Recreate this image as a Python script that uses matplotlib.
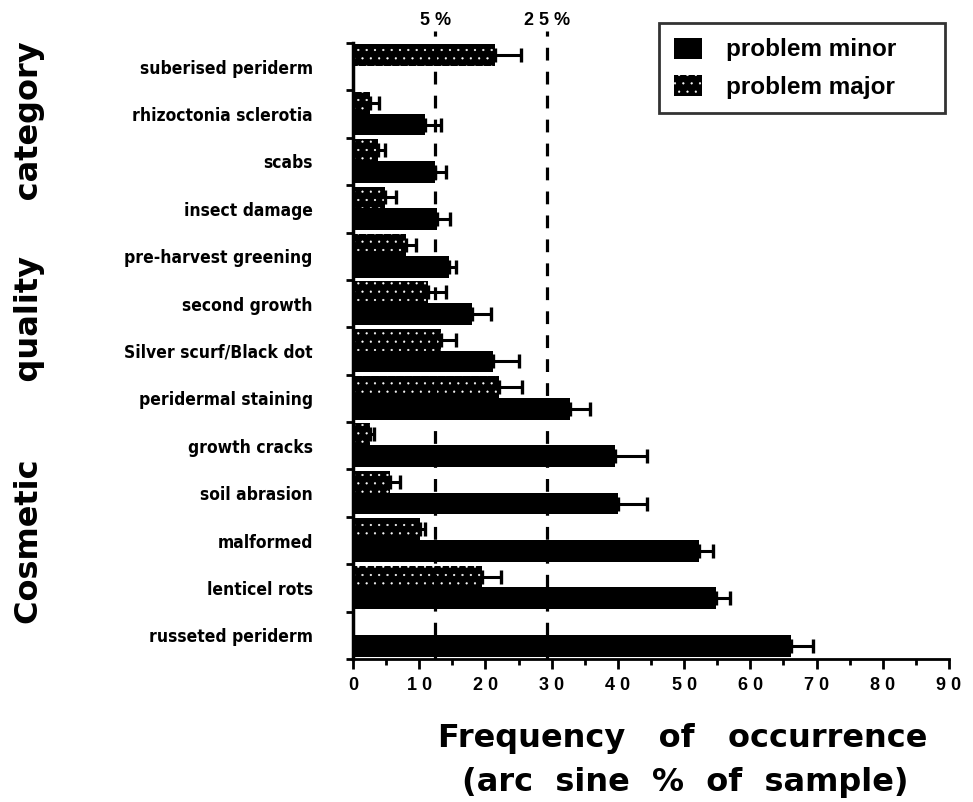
import numpy as np
import matplotlib
matplotlib.use("Agg")
import matplotlib.pyplot as plt
from matplotlib.ticker import MultipleLocator, FuncFormatter

# categories listed top to bottom
categories = ["suberised periderm", "rhizoctonia sclerotia", "scabs", "insect damage",
              "pre-harvest greening", "second growth", "Silver scurf/Black dot",
              "peridermal staining", "growth cracks", "soil abrasion", "malformed",
              "lenticel rots", "russeted periderm"]
nan = np.nan
minor = [nan, 10.9, 12.4, 12.7, 14.5, 17.9, 21.1, 32.7, 39.5, 40.0, 52.3, 54.8, 66.2]
minor_err = [nan, 2.4, 1.7, 2.0, 1.1, 3.0, 3.9, 3.1, 4.9, 4.4, 2.1, 2.2, 3.2]
major = [21.5, 2.6, 3.8, 4.8, 8.0, 11.4, 13.3, 22.0, 2.6, 5.6, 10.1, 19.5, nan]
major_err = [3.8, 1.3, 1.0, 1.7, 1.5, 2.7, 2.3, 3.5, 0.6, 1.5, 0.8, 2.9, nan]
ref_lines = [12.4, 29.3]          # 5 % and 25 % thresholds
ref_labels = ["5 %", "2 5 %"]

plt.rcParams["font.family"] = ["DejaVu Sans"]
plt.rcParams["hatch.linewidth"] = 0.35

fig = plt.figure(figsize=(9.73, 8.02), dpi=100)
ax = fig.add_axes([353/973, 1-659/802, (949-353)/973, (659-43)/802])

y = np.arange(len(categories))
minor = np.array(minor); minor_err = np.array(minor_err)
major = np.array(major); major_err = np.array(major_err)
m1 = ~np.isnan(minor)
m2 = ~np.isnan(major)

ekw = dict(elinewidth=2.2, capsize=5, capthick=2.4, ecolor="black")
ax.barh(y[m1] + 0.22, minor[m1], height=0.46, color="black", linewidth=0,
        xerr=[np.zeros(m1.sum()), minor_err[m1]], error_kw=ekw, label="problem minor")
ax.barh(y[m2] - 0.24, major[m2], height=0.46, facecolor="black", edgecolor="white",
        hatch="..", linewidth=0,
        xerr=[np.zeros(m2.sum()), major_err[m2]], error_kw=ekw, label="problem major")

for xv, lab in zip(ref_lines, ref_labels):
    ax.plot([xv, xv], [12.5, -0.75], color="black", lw=2.3, ls=(0, (4, 3.5)), clip_on=False, zorder=3)
    ax.text(xv, 1.037, lab, transform=ax.get_xaxis_transform(), ha="center", va="center",
            fontsize=13, fontweight="bold", family="Liberation Sans")

ax.set_xlim(0, 90)
ax.set_ylim(12.5, -0.5)
ax.xaxis.set_major_locator(MultipleLocator(10))
ax.xaxis.set_minor_locator(MultipleLocator(5))
ax.xaxis.set_major_formatter(FuncFormatter(lambda v, p: " ".join(str(int(round(v))))))
ax.tick_params(axis="x", which="major", length=7, width=2, pad=6, labelsize=13)
ax.tick_params(axis="x", which="minor", length=4, width=2)
for t in ax.get_xticklabels():
    t.set_family("Liberation Sans"); t.set_fontweight("bold")

ax.set_yticks(y)
ax.set_yticklabels(categories, fontsize=12.5, fontweight="bold", fontstretch="condensed")
ax.set_yticks(np.arange(-0.5, 12.6, 1), minor=True)
ax.tick_params(axis="y", which="major", length=0, pad=29)
ax.tick_params(axis="y", which="minor", length=5, width=2)

for s in ["top", "right"]:
    ax.spines[s].set_visible(False)
ax.spines["left"].set_linewidth(2.5)
ax.spines["bottom"].set_linewidth(2)

fig.text(30/973, 1-333/802, "Cosmetic       quality     category", rotation=90,
         ha="center", va="center", fontsize=23, fontweight="bold")
fig.text(683/973, 1-738/802, "Frequency   of   occurrence", ha="center", va="center",
         fontsize=23, fontweight="bold")
fig.text(685/973, 1-783/802, "(arc  sine  %  of  sample)", ha="center", va="center",
         fontsize=23, fontweight="bold")

leg = fig.legend(loc="upper left", bbox_to_anchor=(659/973, 1-23/802-0.01, 286/973, 0.01),
                 mode="expand", borderaxespad=0, frameon=True,
                 fancybox=False, edgecolor="black", handlelength=1.15, handleheight=0.95,
                 handletextpad=1.0, borderpad=0.6, labelspacing=0.55,
                 prop=dict(size=17.5, weight="bold", family="Liberation Sans"))
leg.get_frame().set_linewidth(2)

fig.savefig("out.png", dpi=100)
